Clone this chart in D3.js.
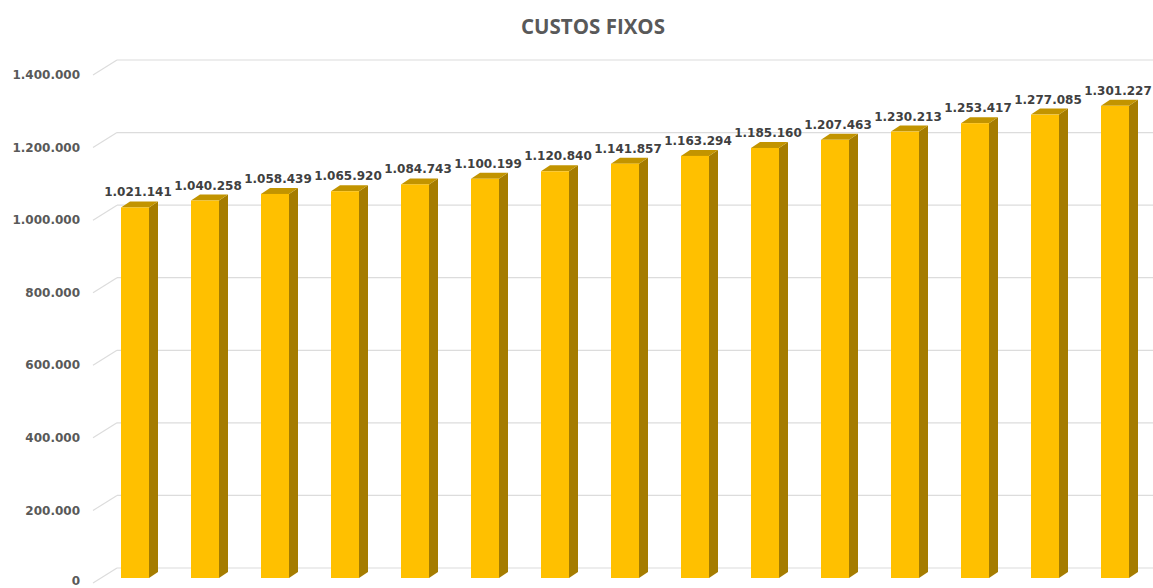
<!DOCTYPE html>
<html>
<head>
<meta charset="utf-8">
<script src="https://cdn.jsdelivr.net/npm/d3@7"></script>
<style>
  body { margin: 0; background: #fff; }
  svg { display: block; }
</style>
</head>
<body>
<div id="chart"></div>
<script>
const categories = ['1', '2', '3', '4', '5', '6', '7', '8', '9', '10', '11', '12', '13', '14', '15'];
const values = [1021141, 1040258, 1058439, 1065920, 1084743, 1100199, 1120840, 1141857,
  1163294, 1185160, 1207463, 1230213, 1253417, 1277085, 1301227];
const tickValues = [0, 200000, 400000, 600000, 800000, 1000000, 1200000, 1400000];
const title = 'CUSTOS FIXOS';

const width = 1153;
const height = 588;
const depthX = 9;
const depthY = -6;

const fmt = v => d3.format(',')(v).replace(/,/g, '.');

const svg = d3.select('#chart')
  .append('svg')
  .attr('width', width)
  .attr('height', height);

const x = d3.scaleBand()
  .domain(categories)
  .range([100, 1150])
  .paddingInner(0.6)
  .paddingOuter(0.3);

// front plane of the bars
const y = d3.scaleLinear()
  .domain([0, 1400000])
  .range([578, 70]);

// title
svg.append('text')
  .attr('x', 593)
  .attr('y', 34)
  .attr('text-anchor', 'middle')
  .attr('font-family', 'Open Sans, sans-serif')
  .attr('font-weight', 'bold')
  .attr('font-size', 20.5)
  .attr('fill', '#595959')
  .text(title);

// back wall gridlines and left wall diagonals
const grid = svg.append('g');
grid.selectAll('line.back')
  .data(tickValues)
  .enter().append('line')
  .attr('class', 'back')
  .attr('x1', 117).attr('x2', width)
  .attr('y1', d => y(d) - 10).attr('y2', d => y(d) - 10)
  .attr('stroke', '#dcdcdc').attr('stroke-width', 1.2);
grid.selectAll('line.side')
  .data(tickValues)
  .enter().append('line')
  .attr('class', 'side')
  .attr('x1', 93).attr('x2', 117)
  .attr('y1', d => y(d) + 5).attr('y2', d => y(d) - 10)
  .attr('stroke', '#dcdcdc').attr('stroke-width', 1.2);

// axis labels
svg.append('g').selectAll('text')
  .data(tickValues)
  .enter().append('text')
  .attr('x', 80)
  .attr('y', d => Math.min(y(d) + 5, 581))
  .attr('dy', '0.35em')
  .attr('text-anchor', 'end')
  .attr('font-family', 'DejaVu Sans, sans-serif')
  .attr('font-weight', 'bold')
  .attr('font-size', 12)
  .attr('fill', '#595959')
  .text(fmt);

// bars
const bars = svg.append('g').selectAll('g')
  .data(values)
  .enter().append('g');

const bw = x.bandwidth();

bars.append('path')
  .attr('fill', '#a57c00')
  .attr('d', (d, i) => {
    const x0 = x(categories[i]) + bw;
    return `M${x0},${y(d)} L${x0 + depthX},${y(d) + depthY} L${x0 + depthX},${y(0) + depthY} L${x0},${y(0)} Z`;
  });

bars.append('path')
  .attr('fill', '#c29400')
  .attr('d', (d, i) => {
    const x0 = x(categories[i]);
    return `M${x0},${y(d)} L${x0 + depthX},${y(d) + depthY} L${x0 + bw + depthX},${y(d) + depthY} L${x0 + bw},${y(d)} Z`;
  });

bars.append('rect')
  .attr('x', (d, i) => x(categories[i]))
  .attr('y', d => y(d))
  .attr('width', bw)
  .attr('height', d => y(0) - y(d))
  .attr('fill', '#ffc000');

// data labels
bars.append('text')
  .attr('x', (d, i) => x(categories[i]) + bw / 2 + 3)
  .attr('y', d => y(d) - 11)
  .attr('text-anchor', 'middle')
  .attr('font-family', 'DejaVu Sans, sans-serif')
  .attr('font-weight', 'bold')
  .attr('font-size', 12)
  .attr('fill', '#404040')
  .text(fmt);
</script>
</body>
</html>
